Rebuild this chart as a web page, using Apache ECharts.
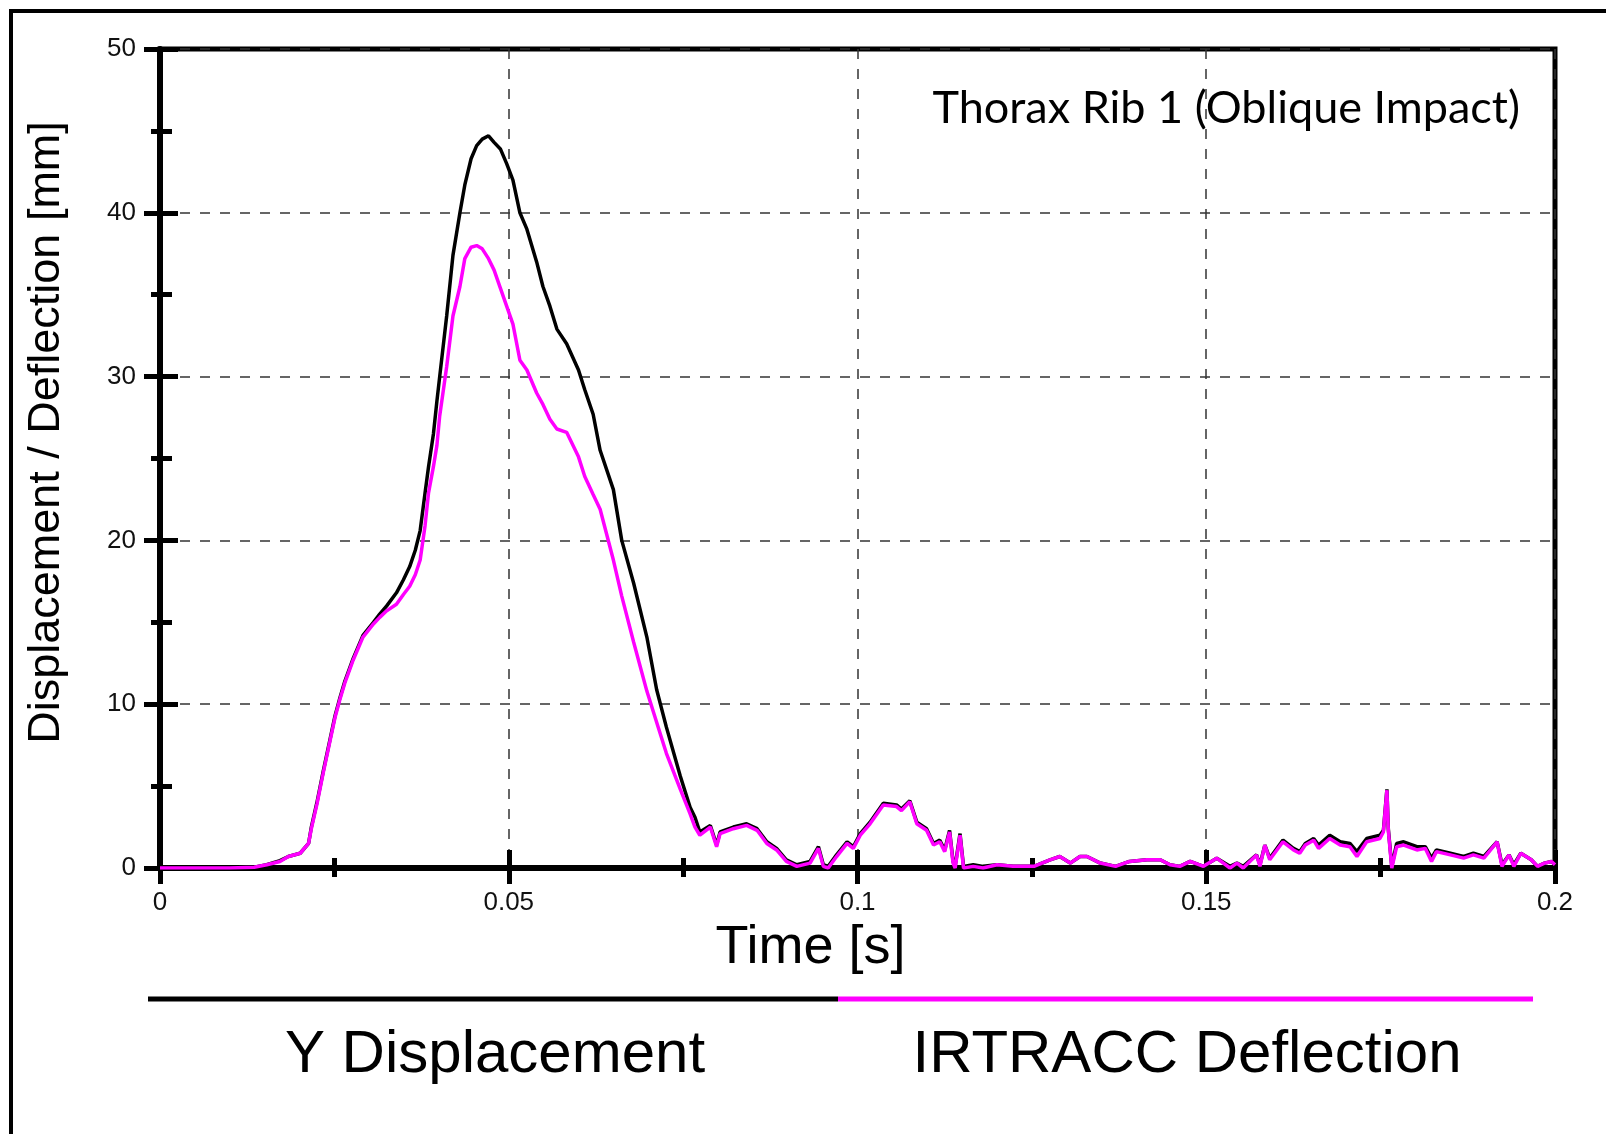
<!DOCTYPE html>
<html>
<head>
<meta charset="utf-8">
<script src="https://cdn.jsdelivr.net/npm/echarts@6/dist/echarts.min.js"></script>
<style>
html,body{margin:0;padding:0;background:#fff;}
#chart{width:1606px;height:1134px;}
</style>
</head>
<body>
<div id="chart"></div>
<script>
var time = [0,0.005,0.01,0.0135,0.0153,0.0172,0.0184,0.0201,0.0213,0.0217,0.0225,0.0234,0.0244,0.0251,0.0258,0.0265,0.0277,0.0291,0.0306,0.0315,0.0325,0.0339,0.0349,0.0358,0.0366,0.0373,0.038,0.0385,0.0392,0.0397,0.0401,0.0411,0.042,0.043,0.0437,0.0446,0.0454,0.0462,0.0471,0.0479,0.0488,0.0497,0.0506,0.0516,0.0526,0.054,0.0549,0.0559,0.0569,0.0583,0.06,0.0609,0.0621,0.0631,0.065,0.0662,0.0679,0.0698,0.0712,0.0726,0.0746,0.076,0.0767,0.0774,0.0789,0.0798,0.0803,0.0822,0.0841,0.0856,0.087,0.0884,0.0898,0.0913,0.0932,0.0944,0.0951,0.0958,0.097,0.0985,0.0994,0.1004,0.1018,0.1037,0.1056,0.1063,0.1075,0.1085,0.1099,0.1109,0.1118,0.1125,0.1132,0.1137,0.114,0.1147,0.1152,0.1166,0.118,0.12,0.1223,0.1243,0.1253,0.1276,0.129,0.1305,0.1319,0.1329,0.1348,0.137,0.139,0.1415,0.1434,0.1448,0.1462,0.1477,0.1496,0.1515,0.1534,0.1544,0.1553,0.1572,0.1577,0.1584,0.1591,0.161,0.1625,0.1634,0.1642,0.1654,0.1661,0.1677,0.1692,0.1706,0.1716,0.173,0.1749,0.1754,0.1759,0.1761,0.1766,0.1773,0.1783,0.1802,0.1814,0.1823,0.183,0.185,0.1869,0.1883,0.1898,0.1917,0.1924,0.1934,0.1941,0.1951,0.1966,0.1975,0.1985,0.1995,0.2];

var yDisplacement = [0,0,0,0.05,0.2,0.45,0.7,0.9,1.5,2.5,4.0,5.9,7.9,9.3,10.4,11.4,12.8,14.2,15.0,15.5,16.0,16.8,17.6,18.4,19.4,20.6,22.9,24.5,26.5,28.5,30.0,33.7,37.4,40.0,41.7,43.3,44.1,44.5,44.7,44.3,43.9,43.0,42.0,40.0,39.0,37.0,35.5,34.3,32.9,32.0,30.4,29.2,27.7,25.5,23.1,20.0,17.4,14.1,10.9,8.6,5.6,3.7,3.1,2.2,2.6,1.4,2.2,2.5,2.7,2.4,1.6,1.2,0.5,0.2,0.4,1.3,0.2,0.1,0.8,1.6,1.3,2.1,2.8,3.95,3.85,3.6,4.1,2.8,2.4,1.5,1.7,1.1,2.3,0.4,0.1,2.1,0.1,0.2,0.1,0.2,0.1,0.1,0.1,0.5,0.7,0.3,0.7,0.7,0.3,0.1,0.4,0.5,0.5,0.2,0.1,0.4,0.1,0.6,0.1,0.3,0.1,0.8,0.2,1.4,0.6,1.7,1.2,1.0,1.5,1.8,1.4,2.0,1.6,1.5,1.0,1.8,2.0,2.3,4.8,2.4,0.1,1.5,1.6,1.3,1.3,0.6,1.1,0.9,0.7,0.9,0.7,1.6,0.2,0.8,0.2,0.9,0.5,0.1,0.3,0.4,0.2];

var irtraccDeflection = [0,0,0,0.05,0.2,0.4,0.7,0.9,1.5,2.4,3.9,5.8,7.8,9.2,10.3,11.3,12.7,14.1,14.9,15.3,15.7,16.1,16.7,17.2,17.9,18.8,20.9,22.9,24.5,25.8,27.6,30.6,33.7,35.5,37.2,37.9,38.0,37.8,37.2,36.5,35.4,34.3,33.2,31.0,30.4,29.0,28.3,27.4,26.8,26.6,25.1,23.9,22.8,21.9,18.8,16.6,13.8,10.8,8.9,7.0,4.8,3.3,2.5,2.0,2.5,1.3,2.1,2.4,2.6,2.3,1.5,1.1,0.4,0.1,0.3,1.2,0.1,0,0.7,1.5,1.2,2.0,2.7,3.85,3.75,3.5,4.05,2.7,2.3,1.4,1.6,1.0,2.2,0.3,0,2.0,0,0.1,0,0.2,0.1,0.1,0.1,0.5,0.7,0.3,0.7,0.7,0.3,0.1,0.4,0.5,0.5,0.2,0.1,0.4,0.1,0.6,0,0.3,0,0.8,0.1,1.4,0.5,1.6,1.1,0.9,1.4,1.7,1.2,1.8,1.4,1.3,0.7,1.6,1.8,2.2,4.75,2.3,0,1.3,1.4,1.1,1.2,0.4,1.0,0.8,0.6,0.8,0.6,1.6,0.1,0.8,0.1,0.9,0.5,0.1,0.3,0.4,0.2];

var xTickLabels = ['0','0.05','0.1','0.15','0.2'];
var yTickLabels = ['0','10','20','30','40','50'];
var chartTitle = 'Thorax Rib 1 (Oblique Impact)';
var seriesNames = ['Y Displacement','IRTRACC Deflection'];
var xName = 'Time [s]';
var yName = 'Displacement / Deflection [mm]';

function pairs(ts, vs){ var out=[]; for(var i=0;i<ts.length;i++){ out.push([ts[i], vs[i]]); } return out; }

var font = '"Liberation Sans", Arial, sans-serif';
var chart = echarts.init(document.getElementById('chart'), null, {renderer:'canvas'});

var xLabelFmt = function(v){ var i = Math.round(v/0.05); return xTickLabels[i] !== undefined ? xTickLabels[i] : ''; };
var yLabelFmt = function(v){ var i = Math.round(v/10); return yTickLabels[i] !== undefined ? yTickLabels[i] : ''; };

var option = {
  animation:false,
  backgroundColor:'#fff',
  grid:{left:160, right:51, top:49, bottom:266, show:true, borderColor:'#000', borderWidth:5, backgroundColor:'transparent'},
  xAxis:[{
    type:'value', min:0, max:0.2, interval:0.05, position:'bottom',
    name:xName, nameLocation:'middle', nameGap:49,
    nameTextStyle:{fontFamily:font, fontSize:54, color:'#000', padding:[0,94,0,0]},
    axisLine:{lineStyle:{color:'#000', width:6}},
    axisTick:{show:true, inside:false, length:16, lineStyle:{color:'#000', width:5}},
    minorTick:{show:true, splitNumber:2, length:9, lineStyle:{color:'#000', width:5}},
    splitLine:{show:true, lineStyle:{color:'#333', width:1.5, type:[10,10]}},
    axisLabel:{fontFamily:font, fontSize:26, color:'#111', margin:22, formatter:xLabelFmt}
  },{
    type:'value', min:0, max:0.2, interval:0.05, position:'bottom',
    axisLine:{show:false},
    axisTick:{show:true, inside:true, length:18, lineStyle:{color:'#000', width:5}},
    minorTick:{show:true, splitNumber:2, length:10, lineStyle:{color:'#000', width:5}},
    splitLine:{show:false}, axisLabel:{show:false}
  }],
  yAxis:[{
    type:'value', min:0, max:50, interval:10, position:'left',
    name:yName, nameLocation:'middle', nameGap:91, nameRotate:90,
    nameTextStyle:{fontFamily:font, fontSize:45, color:'#000', padding:[0,0,0,52]},
    axisLine:{lineStyle:{color:'#000', width:6}},
    axisTick:{show:true, inside:false, length:16, lineStyle:{color:'#000', width:5}},
    minorTick:{show:true, splitNumber:2, length:9, lineStyle:{color:'#000', width:5}},
    splitLine:{show:true, lineStyle:{color:'#333', width:1.5, type:[10,10]}},
    axisLabel:{fontFamily:font, fontSize:26, color:'#111', margin:24, formatter:yLabelFmt}
  },{
    type:'value', min:0, max:50, interval:10, position:'left',
    axisLine:{show:false},
    axisTick:{show:true, inside:true, length:18, lineStyle:{color:'#000', width:5}},
    minorTick:{show:true, splitNumber:2, length:12, lineStyle:{color:'#000', width:5}},
    splitLine:{show:false}, axisLabel:{show:false}
  }],
  series:[{
    name:seriesNames[0], type:'line', xAxisIndex:0, yAxisIndex:0,
    data:pairs(time, yDisplacement), showSymbol:false, symbol:'none',
    lineStyle:{color:'#000', width:3.5}, z:3
  },{
    name:seriesNames[1], type:'line', xAxisIndex:0, yAxisIndex:0,
    data:pairs(time, irtraccDeflection), showSymbol:false, symbol:'none',
    lineStyle:{color:'#ff00ff', width:3.5}, z:4
  }],
  graphic:[
    {type:'rect', shape:{x:11, y:11, width:1700, height:1300}, style:{fill:'none', stroke:'#000', lineWidth:4}, z:-1, silent:true},
    {type:'text', x:1520, y:108, style:{text:chartTitle, fontFamily:'Lato, "Open Sans", sans-serif', fontSize:45, fill:'#000', align:'right', verticalAlign:'middle'}},
    {type:'line', shape:{x1:148, y1:999, x2:838, y2:999}, style:{stroke:'#000', lineWidth:5}},
    {type:'line', shape:{x1:838, y1:999, x2:1533, y2:999}, style:{stroke:'#ff00ff', lineWidth:5}},
    {type:'text', x:495, y:1055, style:{text:seriesNames[0], fontFamily:font, fontSize:60, fill:'#000', align:'center', verticalAlign:'middle'}},
    {type:'text', x:1187, y:1055, style:{text:seriesNames[1], fontFamily:font, fontSize:60, fill:'#000', align:'center', verticalAlign:'middle'}}
  ]
};
chart.setOption(option);
</script>
</body>
</html>
